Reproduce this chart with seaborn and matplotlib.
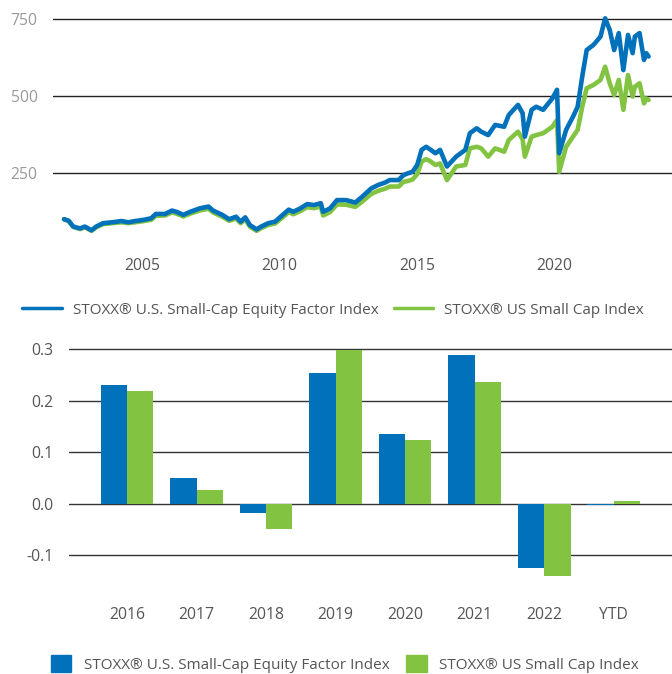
import pandas as pd
import matplotlib.pyplot as plt
import matplotlib.dates as mdates
from matplotlib.lines import Line2D
from matplotlib.patches import Patch
import seaborn as sns

# -------------------------------------------------------------
# DATA: index levels
# -------------------------------------------------------------
FACTOR = 'STOXX® U.S. Small-Cap Equity Factor Index'
SMALL = 'STOXX® US Small Cap Index'

dates = [
    '2002-03', '2002-05', '2002-07', '2002-10', '2002-12', '2003-03', '2003-05', '2003-08',
    '2003-12', '2004-04', '2004-07', '2004-10', '2005-01', '2005-05', '2005-07', '2005-11',
    '2006-02', '2006-04', '2006-07', '2006-10', '2007-02', '2007-06', '2007-08', '2007-12',
    '2008-03', '2008-06', '2008-08', '2008-10', '2008-12', '2009-03', '2009-05', '2009-08',
    '2009-11', '2010-03', '2010-05', '2010-07', '2010-10', '2011-01', '2011-04', '2011-07',
    '2011-08', '2011-11', '2012-02', '2012-06', '2012-10', '2013-01', '2013-05', '2013-08',
    '2013-11', '2014-01', '2014-05', '2014-07', '2014-09', '2014-11', '2015-01', '2015-03',
    '2015-05', '2015-07', '2015-09', '2015-11', '2016-02', '2016-06', '2016-10', '2016-12',
    '2017-03', '2017-05', '2017-08', '2017-11', '2018-03', '2018-05', '2018-09', '2018-11',
    '2018-12', '2019-03', '2019-05', '2019-08', '2019-12', '2020-02', '2020-03', '2020-06',
    '2020-09', '2020-11', '2021-01', '2021-03', '2021-06', '2021-09', '2021-11', '2022-01',
    '2022-03', '2022-05', '2022-07', '2022-09', '2022-11', '2022-12', '2023-02', '2023-04',
    '2023-05', '2023-06',
]

factor_level = [
    100, 95, 76, 70, 76, 64, 76, 87,
    90, 94, 90, 94, 97, 103, 117, 117,
    128, 124, 114, 124, 135, 141, 128, 114,
    100, 108, 92, 106, 81, 67, 76, 87,
    92, 118, 131, 124, 135, 149, 146, 152,
    124, 135, 162, 162, 154, 173, 200, 211,
    219, 227, 227, 243, 249, 254, 276, 325,
    335, 325, 314, 325, 271, 303, 325, 379,
    395, 384, 373, 406, 400, 438, 471, 444,
    368, 455, 465, 455, 492, 520, 314, 390,
    433, 465, 563, 649, 666, 693, 752, 714,
    649, 704, 584, 698, 639, 693, 704, 617,
    639, 628,
]

small_level = [
    100, 94, 75, 68, 74, 62, 74, 84,
    87, 90, 87, 90, 93, 98, 111, 112,
    122, 118, 109, 118, 128, 134, 122, 108,
    95, 102, 87, 100, 76, 62, 71, 81,
    86, 110, 123, 116, 126, 139, 136, 141,
    112, 123, 148, 147, 140, 157, 182, 192,
    199, 206, 206, 221, 224, 229, 246, 287,
    295, 287, 276, 281, 227, 271, 276, 330,
    335, 330, 303, 330, 319, 357, 384, 360,
    303, 368, 373, 379, 400, 422, 254, 335,
    368, 390, 465, 525, 536, 552, 595, 541,
    503, 552, 455, 568, 498, 530, 541, 476,
    492, 487,
]

# calendar-year returns
periods = ['2016', '2017', '2018', '2019', '2020', '2021', '2022', 'YTD']
factor_ret = [0.231, 0.050, -0.018, 0.254, 0.136, 0.289, -0.124, -0.002]
small_ret = [0.219, 0.027, -0.048, 0.299, 0.124, 0.236, -0.139, 0.006]

BLUE = '#0071BA'
GREEN = '#82C341'
TEXT = '#555555'

lines = pd.DataFrame({
    'date': pd.to_datetime(dates * 2),
    'level': small_level + factor_level,
    'index': [SMALL] * len(dates) + [FACTOR] * len(dates),
})
bars = pd.DataFrame({
    'period': periods * 2,
    'ret': factor_ret + small_ret,
    'index': [FACTOR] * len(periods) + [SMALL] * len(periods),
})

# -------------------------------------------------------------
# STYLE
# -------------------------------------------------------------
sns.set_theme(style='white')
plt.rcParams['font.family'] = ['Open Sans', 'DejaVu Sans']
FS = 11.3
LEG_FS = 11

fig = plt.figure(figsize=(6.72, 6.74), dpi=100)
ax1 = fig.add_axes([53 / 672, 1 - 250 / 674, 619 / 672, 240 / 674])
ax2 = fig.add_axes([69 / 672, 1 - 591.5 / 674, 603 / 672, 252.5 / 674])

# -------------------------------------------------------------
# TOP: index levels
# -------------------------------------------------------------
sns.lineplot(data=lines, x='date', y='level', hue='index',
             hue_order=[SMALL, FACTOR], palette=[GREEN, BLUE],
             linewidth=3.3, legend=False, ax=ax1, zorder=3)
ax1.set_ylim(0, 779)
ax1.set_xlim(pd.Timestamp('2001-10-05'), pd.Timestamp('2024-04-07'))
ax1.set_yticks([250, 500, 750])
ax1.xaxis.set_major_locator(mdates.YearLocator(5))
ax1.xaxis.set_major_formatter(mdates.DateFormatter('%Y'))
ax1.grid(axis='y', color='#222222', linewidth=1)
ax1.set_axisbelow(True)
ax1.tick_params(axis='y', length=0, pad=11, labelsize=FS, labelcolor='#999999')
ax1.tick_params(axis='x', length=0, pad=6, labelsize=FS, labelcolor=TEXT)
ax1.set_xlabel('')
ax1.set_ylabel('')
sns.despine(ax=ax1, left=True, bottom=True)

# -------------------------------------------------------------
# BOTTOM: annual returns
# -------------------------------------------------------------
sns.barplot(data=bars, x='period', y='ret', hue='index',
            hue_order=[FACTOR, SMALL], palette=[BLUE, GREEN],
            width=0.76, saturation=1, linewidth=0, legend=False, ax=ax2, zorder=3)
ax2.set_ylim(-0.17, 0.32)
ax2.set_xlim(-0.835, 7.84)
ax2.set_yticks([-0.1, 0.0, 0.1, 0.2, 0.3])
ax2.set_yticklabels(['-0.1', '0.0', '0.1', '0.2', '0.3'])
ax2.grid(axis='y', color='#333333', linewidth=1)
ax2.set_axisbelow(True)
ax2.tick_params(axis='y', length=0, pad=11, labelsize=FS, labelcolor=TEXT)
ax2.tick_params(axis='x', length=0, pad=11, labelsize=FS, labelcolor=TEXT)
ax2.set_xlabel('')
ax2.set_ylabel('')
sns.despine(ax=ax2, left=True, bottom=True)

# -------------------------------------------------------------
# LEGENDS
# -------------------------------------------------------------
line_handles = [Line2D([], [], color=BLUE, linewidth=2.5), Line2D([], [], color=GREEN, linewidth=2.5)]
fig.legend(line_handles, [FACTOR, SMALL], loc='center', bbox_to_anchor=(0.4955, 1 - 310 / 674),
           ncol=2, frameon=False, fontsize=LEG_FS, labelcolor=TEXT,
           handlelength=2.6, handletextpad=0.7, columnspacing=1.0)

bar_handles = [Patch(color=BLUE), Patch(color=GREEN)]
fig.legend(bar_handles, [FACTOR, SMALL], loc='center', bbox_to_anchor=(0.513, 1 - 664 / 674),
           ncol=2, frameon=False, fontsize=LEG_FS, labelcolor=TEXT,
           handlelength=1.35, handleheight=1.35, handletextpad=0.8, columnspacing=1.1)

fig.savefig('out.png', dpi=100)
